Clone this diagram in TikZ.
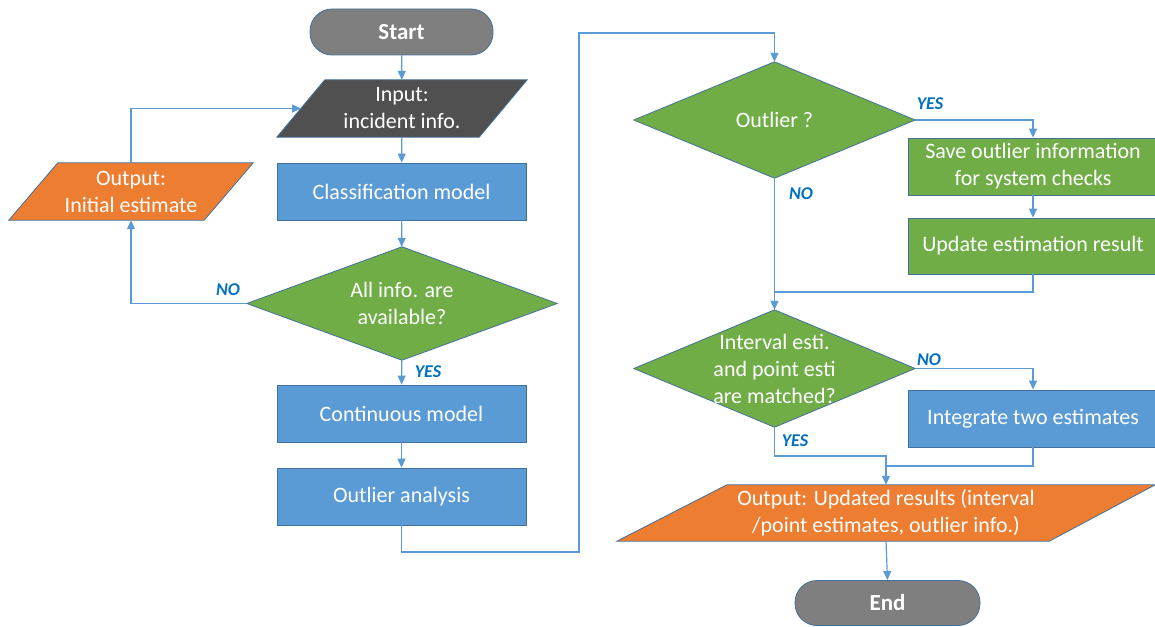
\documentclass[tikz,border=0pt]{standalone}
\usepackage{fontspec}
\setmainfont{Carlito}
\usetikzlibrary{arrows.meta}
\pgfdeclarelayer{background}
\pgfsetlayers{background,main}

\definecolor{flowline}{HTML}{5B9BD5}
\definecolor{shapeedge}{HTML}{41719C}
\definecolor{procblue}{HTML}{5B9BD5}
\definecolor{decgreen}{HTML}{70AD47}
\definecolor{outorange}{HTML}{ED7D31}
\definecolor{termgray}{HTML}{7F7F7F}
\definecolor{inputgray}{HTML}{505050}
\definecolor{labelblue}{HTML}{0070C0}

\tikzset{
  txt/.style={text=white, align=center, inner sep=0pt,
    font=\fontsize{22}{27}\selectfont},
  proc/.style={txt, rectangle, draw=shapeedge, line width=0.8pt, fill=procblue},
  greenproc/.style={proc, fill=decgreen},
  terminal/.style={txt, rectangle, rounded corners=22pt, draw=shapeedge,
    line width=0.8pt, fill=termgray, font=\fontsize{23}{26}\selectfont\bfseries},
  frame/.style={txt, rectangle},
  outline/.style={draw=shapeedge, line width=0.8pt},
  flow/.style={draw=flowline, line width=1.2pt},
  arrowflow/.style={flow, -{Triangle[length=9pt,width=8pt]}},
  lbl/.style={text=labelblue, inner sep=0pt,
    font=\fontsize{18}{18}\selectfont\bfseries\itshape},
}

\begin{document}
\begin{tikzpicture}[x=1pt,y=-1pt]
\useasboundingbox (0,0) rectangle (1155,626);

% ---- left column ----
\node[terminal, minimum width=183pt, minimum height=46pt] (start) at (401.5,32) {Start};
\node[frame, minimum width=250pt, minimum height=57pt] (in) at (402,108.5) {Input:\\incident info.};
\node[proc, minimum width=249pt, minimum height=57pt] (class) at (401.5,191.5) {Classification model};
\node[frame, minimum width=310pt, minimum height=113pt] (d1) at (402,303.5) {All info. are\\available?};
\node[proc, minimum width=249pt, minimum height=57pt] (cont) at (401.5,413.5) {Continuous model};
\node[proc, minimum width=249pt, minimum height=57pt] (outl) at (401.5,496.5) {Outlier analysis};
\node[frame, minimum width=244pt, minimum height=57pt] (out1) at (131,191.5) {Output:\\Initial estimate};

% ---- right column ----
\node[frame, minimum width=281pt, minimum height=116pt] (d2) at (774.5,120) {Outlier ?};
\node[greenproc, minimum width=250pt, minimum height=57pt] (save) at (1033,166.5) {Save outlier information\\for system checks};
\node[greenproc, minimum width=250pt, minimum height=56pt] (upd) at (1033,246) {Update estimation result};
\node[frame, minimum width=281pt, minimum height=117pt] (d3) at (774.5,368.5) {Interval esti.\\and point esti\\are matched?};
\node[proc, minimum width=250pt, minimum height=57pt] (integ) at (1033,418.5) {Integrate two estimates};
\node[frame, minimum width=538pt, minimum height=56pt] (out2) at (886,513) {Output: Updated results (interval\\/point estimates, outlier info.)};
\node[terminal, minimum width=185pt, minimum height=45pt] (end) at (887.5,603) {End};

% ---- parallelogram and diamond outlines behind their texts ----
\begin{pgfonlayer}{background}
  \path[outline, fill=inputgray] ([xshift=48pt]in.north west) -- (in.north east)
    -- ([xshift=-48pt]in.south east) -- (in.south west) -- cycle;
  \path[outline, fill=outorange] ([xshift=49pt]out1.north west) -- (out1.north east)
    -- ([xshift=-49pt]out1.south east) -- (out1.south west) -- cycle;
  \path[outline, fill=outorange] ([xshift=110pt]out2.north west) -- (out2.north east)
    -- ([xshift=-106pt]out2.south east) -- (out2.south west) -- cycle;
  \foreach \d in {d1,d2,d3}
    \path[outline, fill=decgreen] (\d.north) -- (\d.east) -- (\d.south) -- (\d.west) -- cycle;
\end{pgfonlayer}

% ---- junction points ----
\coordinate (inL) at (301,108.5);
\coordinate (j1) at (579,552);
\coordinate (j2) at (579,33);
\coordinate (m1) at (774.5,292);
\coordinate (m2) at (886,466);
\coordinate (m3) at (886,456);

% ---- connectors ----
\draw[arrowflow] (start) -- (in);
\draw[arrowflow] (in) -- (class);
\draw[arrowflow] (class) -- (d1);
\draw[arrowflow] (d1) -- (cont);
\draw[arrowflow] (cont) -- (outl);
\draw[arrowflow] (d1.west) -| (out1.south);
\draw[arrowflow] (out1.north) |- (inL);
\draw[arrowflow] (outl.south) |- (j1) -- (j2) -| (d2.north);
\draw[arrowflow] (d2.east) -| (save.north);
\draw[arrowflow] (save) -- (upd);
\draw[flow] (upd.south) |- (m1);
\draw[arrowflow] (d2.south) -- (d3.north);
\draw[arrowflow] (d3.east) -| (integ.north);
\draw[flow] (integ.south) |- (m2);
\draw[arrowflow] (d3.south) |- (m3) -- (out2.north);
\draw[arrowflow] (out2.south) -- (end.north);

% ---- branch labels ----
\node[lbl] (l1) at (428,372) {YES};
\node[lbl] (l2) at (228,290) {NO};
\node[lbl] (l3) at (930,104) {YES};
\node[lbl] (l4) at (801,194) {NO};
\node[lbl] (l5) at (929,360) {NO};
\node[lbl] (l6) at (795,441) {YES};
\end{tikzpicture}
\end{document}
